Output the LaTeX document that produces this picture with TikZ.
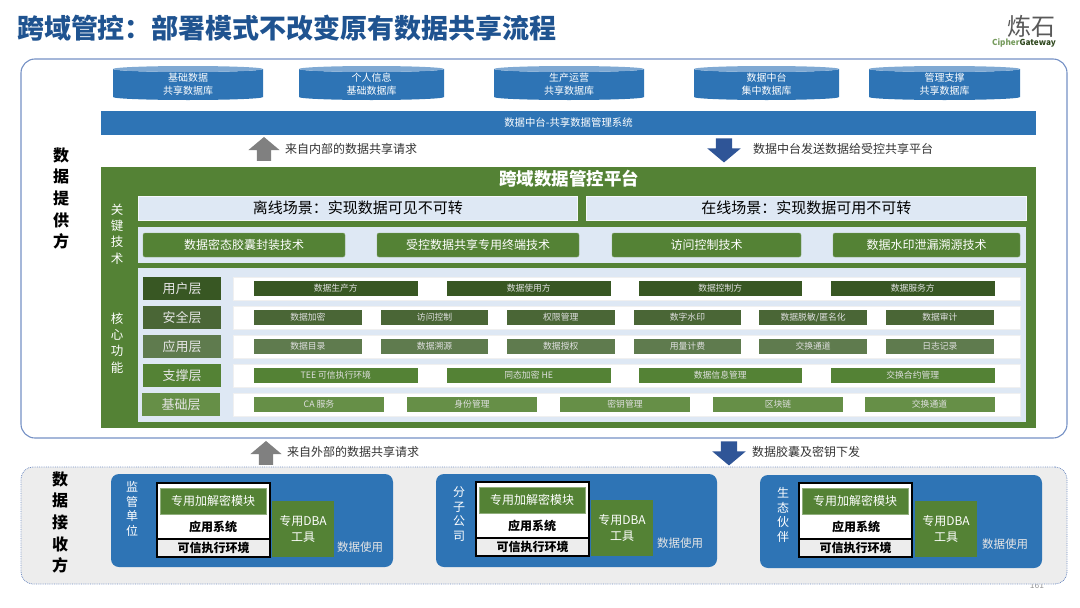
\documentclass[tikz,border=0pt]{standalone}
\usepackage{fontspec}
\setmainfont{Noto Sans CJK SC}
\usepackage{tikz}
\usetikzlibrary{shapes.geometric, shapes.arrows, positioning}
\definecolor{titleblue}{HTML}{1F5390}
\definecolor{framblue}{HTML}{7490C4}
\definecolor{barblue}{HTML}{2E74B5}
\definecolor{capblue}{HTML}{7FA9D3}
\definecolor{downblue}{HTML}{2F5597}
\definecolor{platgreen}{HTML}{548235}
\definecolor{paleblue}{HTML}{DEE8F4}
\definecolor{usergreen}{HTML}{385723}
\definecolor{safegreen}{HTML}{4A6636}
\definecolor{appgreen}{HTML}{5F7B4E}
\definecolor{basegreen}{HTML}{668F47}

\begin{document}
\begin{tikzpicture}[
  x=1pt, y=-1pt,
  every node/.style={outer sep=0pt, inner sep=0pt},
  db/.style={cylinder, shape border rotate=90, shape aspect=0.12, cylinder uses custom fill, cylinder body fill=barblue, cylinder end fill=capblue, minimum height=34pt, anchor=shape center, align=center, text=white, font=\fontsize{10}{13}\selectfont},
  box/.style={rectangle, anchor=north west, align=center},
  scene/.style={box, fill=paleblue, draw=white!70!paleblue, minimum width=439.5pt, minimum height=24pt, font=\fontsize{15}{16}\selectfont, text=black},
  tech/.style={rectangle, rounded corners=2pt, fill=platgreen, draw=white!25!platgreen, minimum height=24pt, anchor=west, text=white, font=\fontsize{12}{14}\selectfont},
  layer/.style={rectangle, minimum width=78pt, minimum height=23pt, text=white!90!black, font=\fontsize{13}{15}\selectfont},
  rowbar/.style={rectangle, fill=white, draw=black!6, minimum width=787pt, minimum height=23pt, right=12pt of #1},
  chip/.style={rectangle, minimum height=15pt, text=white!88!black, font=\fontsize{8.8}{10}\selectfont},
  chipfour/.style={chip, minimum width=163.5pt},
  chipsix/.style={chip, minimum width=107.7pt},
  chipfive/.style={chip, minimum width=130pt},
  side/.style={align=center, text=white, font=\fontsize{12.5}{16.4}\selectfont},
  party/.style={align=center, text=black, font=\bfseries\fontsize{16}{21.7}\selectfont},
  note/.style={anchor=west, text=black!80, font=\fontsize{12}{14}\selectfont},
  upflow/.style={single arrow, shape border rotate=90, fill=black!50, inner xsep=7pt, inner ysep=0pt, minimum height=24pt, single arrow head extend=8.5pt, single arrow tip angle=100},
  downflow/.style={single arrow, shape border rotate=270, fill=downblue, inner xsep=8pt, inner ysep=0pt, minimum height=24pt, single arrow head extend=8.5pt, single arrow tip angle=100},
  unit/.style={box, rounded corners=8pt, fill=barblue, minimum width=282pt, minimum height=93pt},
  unitname/.style={align=center, text=white, font=\fontsize{12}{14.6}\selectfont},
  appbox/.style={box, fill=white, draw=black, line width=1.2pt, minimum width=113pt, minimum height=56pt},
  teebox/.style={rectangle, fill=black!7, draw=black, line width=1.2pt, minimum width=113pt, minimum height=18pt, below=0pt of #1, font=\bfseries\fontsize{12}{14}\selectfont},
  cryptbox/.style={box, fill=platgreen, draw=white!35!platgreen, minimum width=106pt, minimum height=26pt, text=white, font=\fontsize{12}{14}\selectfont},
  appname/.style={font=\bfseries\fontsize{12}{14}\selectfont},
  dbabox/.style={box, fill=platgreen, minimum width=62pt, minimum height=56pt, text=white, font=\fontsize{12}{15.5}\selectfont},
  useword/.style={text=white!90!black, font=\fontsize{11.5}{14}\selectfont}
]
  \useasboundingbox (0,0) rectangle (1080,608);

  % heading and logo
  \node[anchor=west, text=titleblue, font=\bfseries\fontsize{27}{30}\selectfont] (title) at (17,28) {跨域管控：部署模式不改变原有数据共享流程};
  \node[text=black!65, font=\fontsize{24}{26}\selectfont] (logo) at (1031,26) {炼石};
  \node[font=\bfseries\fontsize{8.2}{10}\selectfont] (logotext) at (1024,43) {\textcolor{platgreen!80!white}{Cipher}\textcolor{black!45!platgreen}{Gateway}};

  % upper frame
  \node[box, rounded corners=14pt, draw=framblue, line width=1.1pt, minimum width=1046pt, minimum height=379pt] (provider) at (21,59) {};
  \node[party] (providername) at (61,198.5) {数\\据\\提\\供\\方};

  \node[db, minimum width=150pt] (db1) at (188,83) {基础数据\\共享数据库};
  \node[db, minimum width=145pt] (db2) at (371.5,83) {个人信息\\基础数据库};
  \node[db, minimum width=150pt] (db3) at (569,83) {生产运营\\共享数据库};
  \node[db, minimum width=145pt] (db4) at (766.5,83) {数据中台\\集中数据库};
  \node[db, minimum width=151pt] (db5) at (944.5,83) {管理支撑\\共享数据库};

  \node[box, fill=barblue, minimum width=935pt, minimum height=24pt, text=white, font=\fontsize{10.4}{12}\selectfont] (midbar) at (101,111) {数据中台-共享数据管理系统};

  \node[upflow] (reqin) at (264,152) {};
  \node[note] (reqintext) at (285,149) {来自内部的数据共享请求};
  \node[downflow] (sendout) at (724,147) {};
  \node[note] (sendouttext) at (753,149) {数据中台发送数据给受控共享平台};

  % platform
  \node[box, fill=platgreen, minimum width=935pt, minimum height=261pt] (platform) at (101,167) {};
  \node[text=white, font=\bfseries\fontsize{17.5}{20}\selectfont] (platformname) at (569,179) {跨域数据管控平台};
  \node[side] (techname) at (117,234) {关\\键\\技\\术};
  \node[side] (corename) at (117,343) {核\\心\\功\\能};

  \node[scene] (offline) at (138,196) {离线场景：实现数据可见不可转};
  \node[scene, right=9pt of offline] (online) {在线场景：实现数据可用不可转};

  \node[box, fill=paleblue, minimum width=888pt, minimum height=36pt] (techband) at (138,227) {};
  \node[tech, minimum width=202pt] (tech1) at (143,245) {数据密态胶囊封装技术};
  \node[tech, minimum width=202pt, right=32pt of tech1] (tech2) {受控数据共享专用终端技术};
  \node[tech, minimum width=189pt, right=33pt of tech2] (tech3) {访问控制技术};
  \node[tech, minimum width=187pt, right=32pt of tech3] (tech4) {数据水印泄漏溯源技术};

  \node[box, fill=paleblue, minimum width=888pt, minimum height=154pt] (coreband) at (138,268) {};

  \node[layer, fill=usergreen] (layeruser) at (182,288.5) {用户层};
  \node[layer, fill=safegreen, below=6pt of layeruser] (layersafe) {安全层};
  \node[layer, fill=appgreen, below=6pt of layersafe] (layerapp) {应用层};
  \node[layer, fill=platgreen, below=6pt of layerapp] (layersup) {支撑层};
  \node[layer, fill=basegreen, below=6pt of layersup, xshift=-1pt] (layerbase) {基础层};

  \node[rowbar=layeruser] (rowuser) {};
  \node[rowbar=layersafe] (rowsafe) {};
  \node[rowbar=layerapp] (rowapp) {};
  \node[rowbar=layersup] (rowsup) {};
  \node[rowbar=layerbase, xshift=1pt] (rowbase) {};

  \node[chipfour, fill=usergreen, anchor=west] (user1) at ([xshift=21pt]rowuser.west) {数据生产方};
  \node[chipfour, fill=usergreen, right=29.5pt of user1] (user2) {数据使用方};
  \node[chipfour, fill=usergreen, right=28pt of user2] (user3) {数据控制方};
  \node[chipfour, fill=usergreen, right=29pt of user3] (user4) {数据服务方};

  \node[chipsix, fill=safegreen, anchor=west] (safe1) at ([xshift=21pt]rowsafe.west) {数据加密};
  \node[chipsix, fill=safegreen, right=19pt of safe1] (safe2) {访问控制};
  \node[chipsix, fill=safegreen, right=18.5pt of safe2] (safe3) {权限管理};
  \node[chipsix, fill=safegreen, right=19pt of safe3] (safe4) {数字水印};
  \node[chipsix, fill=safegreen, right=18pt of safe4] (safe5) {数据脱敏/匿名化};
  \node[chipsix, fill=safegreen, right=19pt of safe5] (safe6) {数据审计};

  \node[chipsix, fill=appgreen, anchor=west] (app1) at ([xshift=21pt]rowapp.west) {数据目录};
  \node[chipsix, fill=appgreen, right=19pt of app1] (app2) {数据溯源};
  \node[chipsix, fill=appgreen, right=18.5pt of app2] (app3) {数据授权};
  \node[chipsix, fill=appgreen, right=19pt of app3] (app4) {用量计费};
  \node[chipsix, fill=appgreen, right=18pt of app4] (app5) {交换通道};
  \node[chipsix, fill=appgreen, right=19pt of app5] (app6) {日志记录};

  \node[chipfour, fill=platgreen, anchor=west] (sup1) at ([xshift=21pt]rowsup.west) {TEE 可信执行环境};
  \node[chipfour, fill=platgreen, right=29.5pt of sup1] (sup2) {同态加密 HE};
  \node[chipfour, fill=platgreen, right=28pt of sup2] (sup3) {数据信息管理};
  \node[chipfour, fill=platgreen, right=29pt of sup3] (sup4) {交换合约管理};

  \node[chipfive, fill=basegreen, anchor=west] (base1) at ([xshift=21pt]rowbase.west) {CA 服务};
  \node[chipfive, fill=basegreen, right=23pt of base1] (base2) {身份管理};
  \node[chipfive, fill=basegreen, right=23pt of base2] (base3) {密钥管理};
  \node[chipfive, fill=basegreen, right=23pt of base3] (base4) {区块链};
  \node[chipfive, fill=basegreen, right=21.5pt of base4] (base5) {交换通道};

  \node[upflow] (reqout) at (266,456) {};
  \node[note] (reqouttext) at (287,452) {来自外部的数据共享请求};

  % lower frame
  \node[text=black!40, font=\fontsize{8.5}{10}\selectfont] (pageno) at (1037,585) {161};
  \node[box, rounded corners=12pt, fill=black!7, draw=framblue, densely dotted, line width=0.8pt, minimum width=1046pt, minimum height=117pt] (receiver) at (21,467) {};
  \node[downflow] (keyout) at (729,450) {};
  \node[note] (keyouttext) at (752,452) {数据胶囊及密钥下发};
  \node[party] (receivername) at (60,522.5) {数\\据\\接\\收\\方};

  % unit one
  \node[unit] (unit1) at (111,474) {};
  \node[unitname] (unit1name) at (132,509) {监\\管\\单\\位};
  \node[appbox] (app1box) at (157,483) {};
  \node[cryptbox] (crypt1) at (160,488) {专用加解密模块};
  \node[appname] (app1name) at (213,527) {应用系统};
  \node[teebox=app1box] (tee1) {可信执行环境};
  \node[dbabox] (dba1) at (272,501) {专用DBA\\工具};
  \node[useword] (use1) at (360,547) {数据使用};

  % unit two
  \node[unit, minimum width=281pt] (unit2) at (436,474) {};
  \node[unitname] (unit2name) at (459,514) {分\\子\\公\\司};
  \node[appbox] (app2box) at (476,482) {};
  \node[cryptbox] (crypt2) at (479,487) {专用加解密模块};
  \node[appname] (app2name) at (532,526) {应用系统};
  \node[teebox=app2box] (tee2) {可信执行环境};
  \node[dbabox] (dba2) at (591,500) {专用DBA\\工具};
  \node[useword] (use2) at (680,543) {数据使用};

  % unit three
  \node[unit] (unit3) at (760,475) {};
  \node[unitname] (unit3name) at (783,515) {生\\态\\伙\\伴};
  \node[appbox] (app3box) at (799,483) {};
  \node[cryptbox] (crypt3) at (802,488) {专用加解密模块};
  \node[appname] (app3name) at (856,527) {应用系统};
  \node[teebox=app3box] (tee3) {可信执行环境};
  \node[dbabox] (dba3) at (915,501) {专用DBA\\工具};
  \node[useword] (use3) at (1005,544) {数据使用};
\end{tikzpicture}
\end{document}
